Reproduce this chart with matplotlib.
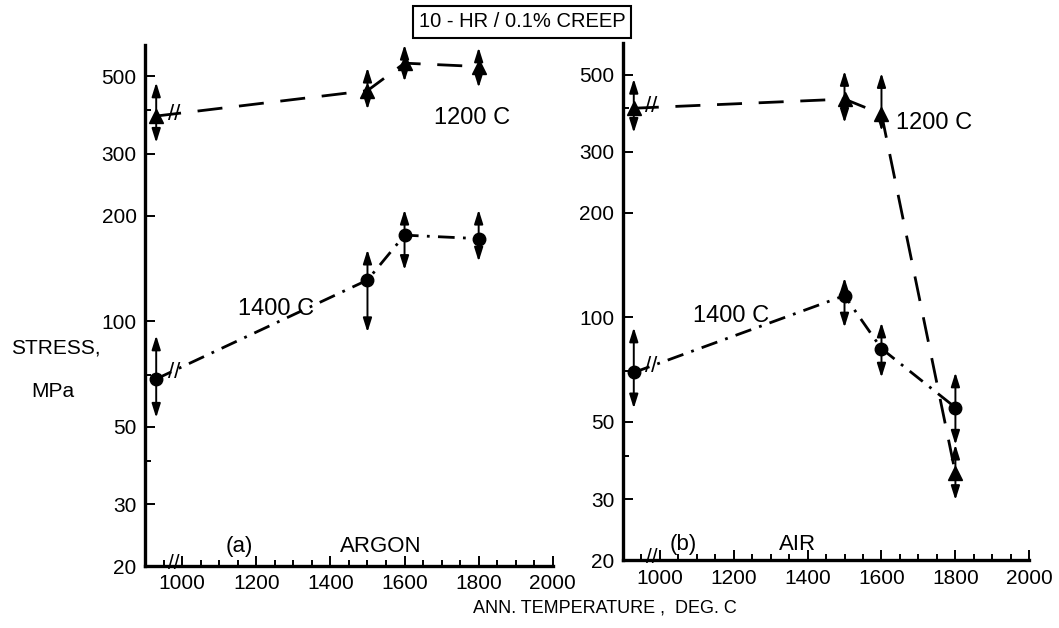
import matplotlib
matplotlib.use('Agg')
from matplotlib import pyplot as plt
from matplotlib import ticker as tk

plt.rcParams['font.family'] = ['Liberation Sans', 'DejaVu Sans']
plt.rcParams['font.size'] = 12

# ---- data (stress in MPa) ----
temps = [930, 1500, 1600, 1800]

# (a) argon
ar_1200 = [385, 455, 545, 533]
ar_1200_hi = [480, 529, 615, 604]
ar_1200_lo = [323, 402, 483, 464]
ar_1400 = [68.4, 131, 176, 172]
ar_1400_hi = [91, 160, 208, 208]
ar_1400_lo = [53, 93, 140, 148]

# (b) air
air_1200 = [400, 425, 385, 35.6]
air_1200_hi = [486, 512, 505, 43]
air_1200_lo = [340, 363, 344, 29.8]
air_1400 = [69.4, 115.5, 81.3, 55.0]
air_1400_hi = [93.5, 130, 96.6, 69.4]
air_1400_lo = [54.7, 93.5, 67.1, 43]

yticks = [20, 30, 50, 100, 200, 300, 500]
xticks = [1000, 1200, 1400, 1600, 1800, 2000]

fig = plt.figure(figsize=(10.59, 6.28), dpi=100)
ax1 = fig.add_axes([0.137, 0.0987, 0.385, 0.830])
ax2 = fig.add_axes([0.588, 0.108, 0.384, 0.823])


def arrows(ax, x, y, hi, lo):
    for xi, yi, h, l in zip(x, y, hi, lo):
        for end in (h, l):
            ax.annotate('', xy=(xi, end), xytext=(xi, yi),
                        arrowprops=dict(arrowstyle='-|>,head_length=0.7,head_width=0.22',
                                        lw=1.4, color='k', shrinkA=0, shrinkB=0),
                        annotation_clip=False)


def setup(ax):
    ax.set_yscale('log')
    ax.set_xlim(900, 2000)
    ax.set_ylim(20, 615)
    ax.spines['top'].set_visible(False)
    ax.spines['right'].set_visible(False)
    ax.spines['left'].set_linewidth(2.4)
    ax.spines['bottom'].set_linewidth(2.4)
    ax.set_yticks(yticks)
    ax.yaxis.set_major_formatter(tk.FixedFormatter([str(v) for v in yticks]))
    ax.set_yticks([40, 70, 400], minor=True)
    ax.yaxis.set_minor_formatter(tk.NullFormatter())
    ax.set_xticks(xticks)
    ax.xaxis.set_minor_locator(tk.MultipleLocator(50))
    ax.tick_params(which='both', direction='in', width=1.4, labelsize=15)
    ax.tick_params(which='major', length=7, pad=6)
    ax.tick_params(which='minor', length=4)
    ax.text(978, 20.4, '//', ha='center', va='center', fontsize=15)


for ax, s12, h12, l12, s14, h14, l14 in [
        (ax1, ar_1200, ar_1200_hi, ar_1200_lo, ar_1400, ar_1400_hi, ar_1400_lo),
        (ax2, air_1200, air_1200_hi, air_1200_lo, air_1400, air_1400_hi, air_1400_lo)]:
    setup(ax)
    ax.plot(temps, s12, color='k', lw=2.0, dashes=(9, 6))
    ax.plot(temps, s12, ls='none', marker='^', ms=10, color='k')
    ax.plot(temps, s14, color='k', lw=2.0, dashes=(6, 3, 1, 3))
    ax.plot(temps, s14, ls='none', marker='o', ms=9, color='k')
    arrows(ax, temps, s12, h12, l12)
    arrows(ax, temps, s14, h14, l14)
    ax.text(978, s12[0] * 1.01, '//', ha='center', va='center', fontsize=16)
    ax.text(978, s14[0] * 1.04, '//', ha='center', va='center', fontsize=16)

ax1.text(1680, 380, '1200 C', ha='left', va='center', fontsize=17)
ax1.text(1150, 108, '1400 C', ha='left', va='center', fontsize=17)
ax1.text(1116, 22.8, '(a)', ha='left', va='center', fontsize=16)
ax1.text(1427, 22.8, 'ARGON', ha='left', va='center', fontsize=16)

ax2.text(1640, 363, '1200 C', ha='left', va='center', fontsize=17)
ax2.text(1089, 101, '1400 C', ha='left', va='center', fontsize=17)
ax2.text(1027, 22.2, '(b)', ha='left', va='center', fontsize=16)
ax2.text(1324, 22.2, 'AIR', ha='left', va='center', fontsize=16)

fig.text(0.493, 0.965, '10 - HR / 0.1% CREEP', ha='center', va='center', fontsize=14.5,
         bbox=dict(boxstyle='square,pad=0.3', fc='white', ec='k', lw=1.5))
fig.text(0.053, 0.446, 'STRESS,', ha='center', va='center', fontsize=15)
fig.text(0.050, 0.376, 'MPa', ha='center', va='center', fontsize=15)
fig.text(0.571, 0.032, 'ANN. TEMPERATURE ,  DEG. C', ha='center', va='center', fontsize=13)

fig.savefig('out.png', dpi=100)
